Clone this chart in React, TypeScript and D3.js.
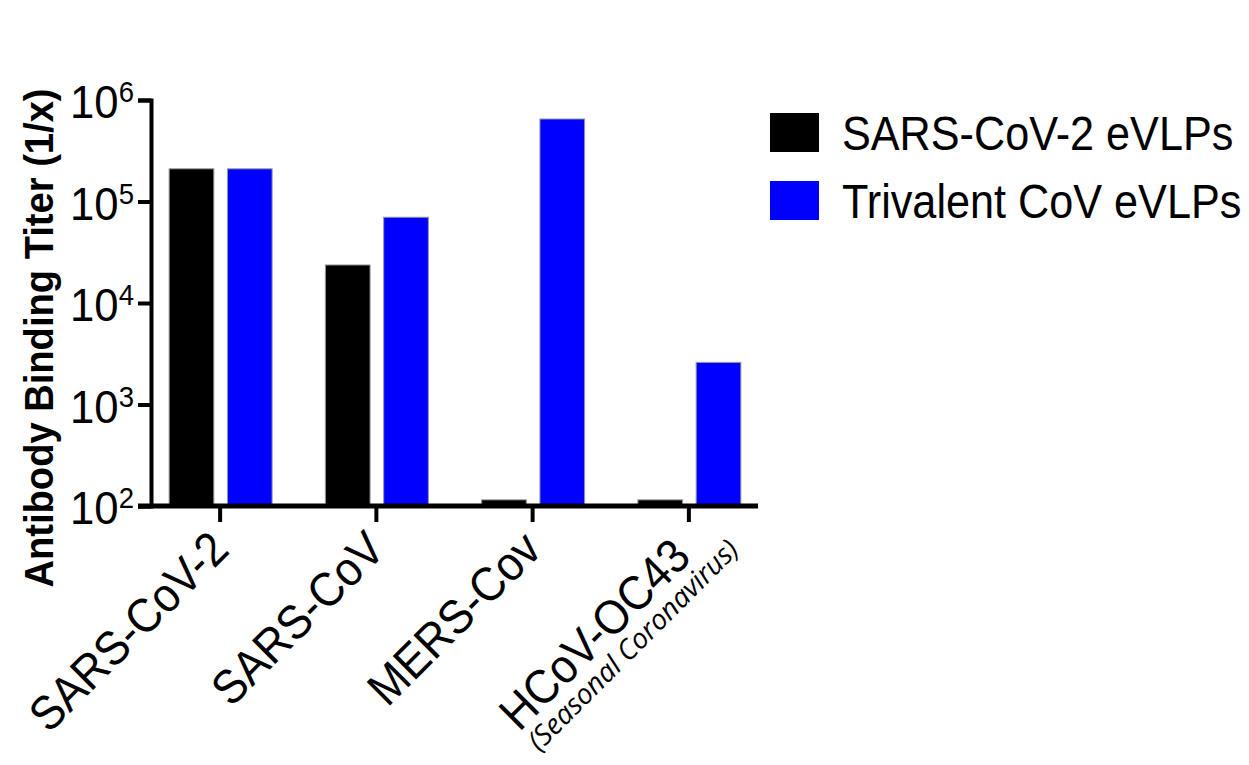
import {useEffect, useRef} from "react";
import * as d3 from "d3";

// values
const categories = ["SARS-CoV-2", "SARS-CoV", "MERS-Cov", "HCoV-OC43"];
const subLabels = ["", "", "", "(Seasonal Coronavirus)"];
const seriesNames = ["SARS-CoV-2 eVLPs", "Trivalent CoV eVLPs"];
const seriesColors = ["#000000", "#0000ff"];
const sarsCov2Titers = [210000, 23700, 115, 115];
const trivalentTiters = [210000, 70000, 650000, 2600];
const yTicks = [1e2, 1e3, 1e4, 1e5, 1e6];

const FONT = "'Liberation Sans', Arial, sans-serif";

function App() {
    const ref = useRef<SVGSVGElement>(null);

    useEffect(() => {
        const svg = d3.select(ref.current);
        svg.selectAll("*").remove();

        const width = 1249, height = 765;
        const axisX = 151, bottom = 506, top = 100;

        svg.append("rect").attr("width", width).attr("height", height).attr("fill", "#fff");

        const x = d3.scaleBand<string>()
            .domain(categories)
            .range([142, 767])
            .padding(0);

        const xSub = d3.scaleBand<string>()
            .domain(seriesNames)
            .range([-51, 52])
            .paddingInner(0.233)
            .paddingOuter(0);

        const y = d3.scaleLog()
            .domain([1e2, 1e6])
            .range([bottom, top]);

        const rows = categories.map((c, i) => ({
            cat: c,
            values: [sarsCov2Titers[i], trivalentTiters[i]]
        }));

        // bars
        const groups = svg.append("g")
            .selectAll("g")
            .data(rows)
            .enter().append("g")
            .attr("transform", d => `translate(${x(d.cat)! + x.bandwidth() / 2},0)`);

        groups.selectAll("rect")
            .data(d => d.values.map((v, k) => ({v, k})))
            .enter().append("rect")
            .attr("x", d => xSub(seriesNames[d.k])!)
            .attr("y", d => y(d.v))
            .attr("width", xSub.bandwidth())
            .attr("height", d => y(1e2) - y(d.v))
            .attr("fill", d => seriesColors[d.k])
            .attr("stroke", "#999")
            .attr("stroke-width", 1);

        // y axis
        const yAxis = svg.append("g")
            .attr("transform", `translate(${axisX},0)`)
            .call(d3.axisLeft(y).tickValues(yTicks).tickSize(13).tickSizeOuter(13).tickFormat(() => ""));
        yAxis.selectAll("path, line").attr("stroke", "#000").attr("stroke-width", 4);

        const labels = svg.append("g")
            .selectAll("text")
            .data(yTicks)
            .enter().append("text")
            .attr("transform", d => `translate(134,${y(d) + 18}) scale(0.95,1)`)
            .attr("text-anchor", "end")
            .attr("font-family", FONT)
            .attr("font-size", 46)
            .attr("fill", "#000");
        labels.append("tspan").text("10");
        labels.append("tspan")
            .attr("font-size", 29)
            .attr("dy", -16)
            .text(d => String(Math.round(Math.log10(d))));

        // x axis
        svg.append("line")
            .attr("x1", axisX - 13).attr("x2", 758)
            .attr("y1", bottom).attr("y2", bottom)
            .attr("stroke", "#000").attr("stroke-width", 5);

        const xAxis = svg.append("g")
            .attr("transform", `translate(0,${bottom})`)
            .call(d3.axisBottom(x).tickSize(16).tickSizeOuter(0).tickFormat(() => ""));
        xAxis.select(".domain").remove();
        xAxis.selectAll("line").attr("stroke", "#000").attr("stroke-width", 4);

        // rotated category labels
        const lab = svg.append("g")
            .selectAll("g")
            .data(categories)
            .enter().append("g")
            .attr("transform", d => `translate(${x(d)! + x.bandwidth() / 2 + 11},552) rotate(-45)`);

        lab.append("text")
            .attr("transform", (d, i) => subLabels[i] ? "translate(-10,0) scale(0.92,1)" : "scale(0.92,1)")
            .attr("text-anchor", "end")
            .attr("font-family", FONT)
            .attr("font-size", 48)
            .text(d => d);

        lab.filter((d, i) => subLabels[i] !== "")
            .append("text")
            .attr("x", 29)
            .attr("y", 28)
            .attr("text-anchor", "end")
            .attr("font-family", "'Open Sans', sans-serif")
            .attr("font-style", "italic")
            .attr("font-size", 28)
            .text(d => subLabels[categories.indexOf(d)]);

        // y title
        svg.append("text")
            .attr("transform", `translate(53,${(top + 576) / 2}) rotate(-90) scale(0.93,1)`)
            .attr("text-anchor", "middle")
            .attr("font-family", FONT)
            .attr("font-weight", "bold")
            .attr("font-size", 41)
            .text("Antibody Binding Titer (1/x)");

        // legend
        const legend = svg.append("g")
            .selectAll("g")
            .data(seriesNames)
            .enter().append("g")
            .attr("transform", (d, i) => `translate(770,${113 + i * 68})`);
        legend.append("rect")
            .attr("width", 49).attr("height", 39)
            .attr("fill", (d, i) => seriesColors[i]);
        legend.append("text")
            .attr("transform", "translate(72,37) scale(0.9,1)")
            .attr("font-family", FONT)
            .attr("font-size", 48)
            .text(d => d);
    }, []);

    return <svg ref={ref} width={1249} height={765}
                style={{position: "absolute", left: 0, top: 0, display: "block"}}/>;
}

export default App;
